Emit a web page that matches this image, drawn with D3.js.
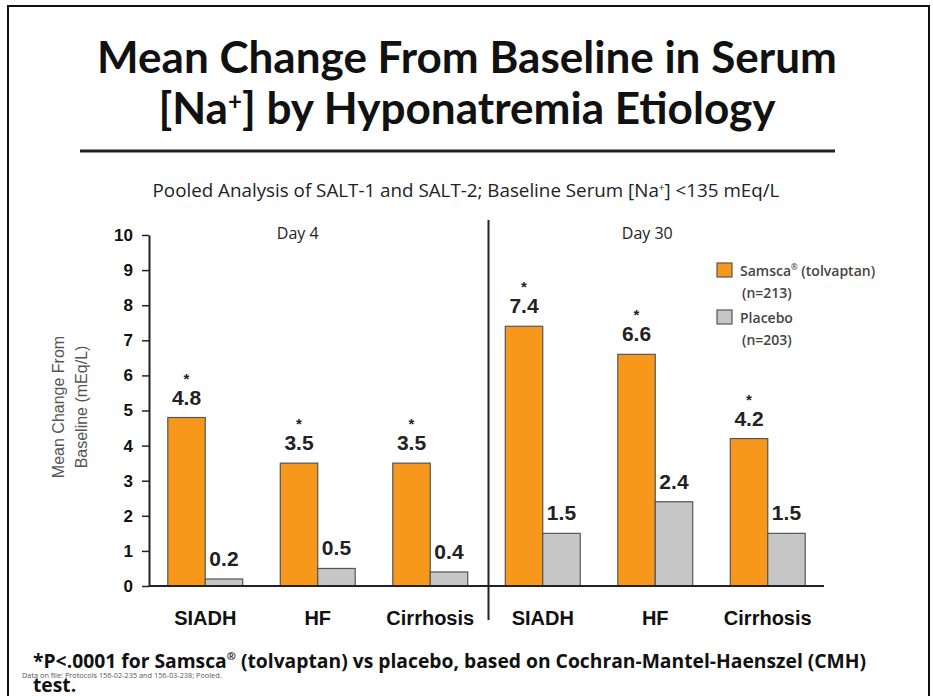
<!DOCTYPE html>
<html>
<head>
<meta charset="utf-8">
<script src="https://cdn.jsdelivr.net/npm/d3@7"></script>
<style>
  body { margin: 0; background: #fff; }
  svg { display: block; }
</style>
</head>
<body>
<svg id="viz" width="933" height="696"></svg>
<script>
// data
const days = ["Day 4", "Day 30"]
const groups = ["d4-SIADH", "d4-HF", "d4-Cirrhosis", "d30-SIADH", "d30-HF", "d30-Cirrhosis"]
const groupLabels = ["SIADH", "HF", "Cirrhosis", "SIADH", "HF", "Cirrhosis"]
const tolvaptan = [4.8, 3.5, 3.5, 7.4, 6.6, 4.2]
const placebo = [0.2, 0.5, 0.4, 1.5, 2.4, 1.5]
const starred = [true, true, true, true, true, true]
const yTicks = [0, 1, 2, 3, 4, 5, 6, 7, 8, 9, 10]
const series = ["Samsca", "Placebo"]
const legendNames = ["Samsca", "Placebo"]
const legendN = ["(n=213)", "(n=203)"]

const COLORS = { Samsca: "#F7981D", Placebo: "#C6C6C6" }
const SANS = "'Open Sans', 'Noto Sans', sans-serif"
const NARROW = "'Liberation Sans Narrow', 'Open Sans', sans-serif"
const ARIAL = "'Liberation Sans', Arial, sans-serif"

const svg = d3.select("svg#viz")

// shrink/grow a text node so it spans a given width
function fit(sel, w) {
    const len = sel.node().getComputedTextLength()
    const fs = parseFloat(sel.attr("font-size"))
    sel.attr("font-size", (fs * w / len).toFixed(2))
    return sel
}

// slide frame
svg.append("rect")
    .attr("x", 8).attr("y", 6).attr("width", 921).attr("height", 700)
    .attr("fill", "none").attr("stroke", "#111").attr("stroke-width", 2)

// title
const titleFont = "'Comic Sans MS', 'Lato', 'DejaVu Sans', sans-serif"
fit(svg.append("text").attr("x", 467).attr("y", 73).attr("text-anchor", "middle")
    .attr("font-family", titleFont).attr("font-weight", "bold").attr("font-size", 42)
    .attr("fill", "#111").text("Mean Change From Baseline in Serum"), 740)
const t2 = svg.append("text").attr("x", 467).attr("y", 124).attr("text-anchor", "middle")
    .attr("font-family", titleFont).attr("font-weight", "bold").attr("font-size", 42)
    .attr("fill", "#111")
t2.append("tspan").text("[Na")
t2.append("tspan").attr("font-size", 24).attr("dy", -14).text("+")
t2.append("tspan").attr("dy", 14).text("] by Hyponatremia Etiology")
fit(t2, 618)

svg.append("line").attr("x1", 80).attr("x2", 835).attr("y1", 151).attr("y2", 151)
    .attr("stroke", "#222").attr("stroke-width", 3)

const sub = svg.append("text").attr("x", 466).attr("y", 197).attr("text-anchor", "middle")
    .attr("font-family", SANS).attr("font-size", 17).attr("fill", "#222")
sub.append("tspan").text("Pooled Analysis of SALT-1 and SALT-2; Baseline Serum [Na")
sub.append("tspan").attr("font-size", 10).attr("dy", -6).text("+")
sub.append("tspan").attr("dy", 6).text("] <135 mEq/L")
fit(sub, 628)

// scales
const x0 = d3.scaleBand().domain(groups).range([149, 824]).paddingInner(0.334).paddingOuter(0.167)
const x1 = d3.scaleBand().domain(series).range([0, x0.bandwidth()])
const y = d3.scaleLinear().domain([0, 10]).range([586, 235])

const rows = groups.map((g, i) => ({
    key: g, label: groupLabels[i], star: starred[i],
    vals: [{ s: "Samsca", v: tolvaptan[i] }, { s: "Placebo", v: placebo[i] }]
}))

// y axis
const yAxis = svg.append("g").attr("transform", "translate(149,0)")
    .call(d3.axisLeft(y).tickValues(yTicks).tickSize(7).tickSizeOuter(0).tickPadding(9))
yAxis.select(".domain").attr("stroke", "#222").attr("stroke-width", 2)
yAxis.selectAll(".tick line").attr("stroke", "#222").attr("stroke-width", 1.5)
yAxis.selectAll(".tick text").attr("font-family", ARIAL).attr("font-weight", "bold")
    .attr("font-size", 17).attr("fill", "#111")

const yt = svg.append("text").attr("transform", "translate(0,407) rotate(-90)")
    .attr("text-anchor", "middle").attr("font-family", ARIAL).attr("font-size", 16).attr("fill", "#555")
yt.append("tspan").attr("x", 0).attr("y", 64).text("Mean Change From")
yt.append("tspan").attr("x", 0).attr("y", 87).text("Baseline (mEq/L)")

// bars
const grp = svg.append("g").selectAll("g")
    .data(rows)
    .join("g")
    .attr("transform", d => `translate(${x0(d.key)},0)`)

grp.selectAll("rect")
    .data(d => d.vals)
    .join("rect")
    .attr("x", d => x1(d.s))
    .attr("y", d => y(d.v))
    .attr("width", x1.bandwidth())
    .attr("height", d => y(0) - y(d.v))
    .attr("fill", d => COLORS[d.s])
    .attr("stroke", "#555")
    .attr("stroke-width", 1.2)

grp.selectAll("text.val")
    .data(d => d.vals)
    .join("text")
    .attr("class", "val")
    .attr("x", d => x1(d.s) + x1.bandwidth() / 2)
    .attr("y", d => y(d.v) - 13)
    .attr("text-anchor", "middle")
    .attr("font-family", ARIAL).attr("font-weight", "bold").attr("font-size", 21)
    .attr("fill", "#222")
    .text(d => d.v.toFixed(1))

grp.filter(d => d.star).append("text")
    .attr("x", x1("Samsca") + x1.bandwidth() / 2)
    .attr("y", d => y(d.vals[0].v) - 34)
    .attr("text-anchor", "middle")
    .attr("font-family", ARIAL).attr("font-weight", "bold").attr("font-size", 15)
    .attr("fill", "#222")
    .text("*")

// baseline
svg.append("line").attr("x1", 149).attr("x2", 824).attr("y1", y(0)).attr("y2", y(0))
    .attr("stroke", "#222").attr("stroke-width", 2)

// category labels
svg.append("g").selectAll("text")
    .data(rows)
    .join("text")
    .attr("x", d => x0(d.key) + x0.bandwidth() / 2)
    .attr("y", 625)
    .attr("text-anchor", "middle")
    .attr("font-family", ARIAL).attr("font-weight", "bold").attr("font-size", 20)
    .attr("fill", "#111")
    .text(d => d.label)

// divider between day 4 and day 30
const divX = x0(groups[3]) - x0.step() * x0.paddingInner() / 2 + 2
svg.append("line").attr("x1", divX).attr("x2", divX).attr("y1", 220).attr("y2", 620)
    .attr("stroke", "#222").attr("stroke-width", 2)

// day headings
const dayCenters = [x0(groups[1]) + x0.bandwidth() / 2 - 20, x0(groups[4]) + x0.bandwidth() / 2 - 8]
svg.append("g").selectAll("text")
    .data(days)
    .join("text")
    .attr("x", (d, i) => dayCenters[i])
    .attr("y", 239)
    .attr("text-anchor", "middle")
    .attr("font-family", SANS).attr("font-size", 16).attr("fill", "#222")
    .text(d => d)

// legend
const leg = svg.append("g").attr("transform", "translate(717,263)")
series.forEach((s, i) => {
    const g = leg.append("g").attr("transform", `translate(0,${i * 47})`)
    g.append("rect").attr("width", 15).attr("height", 14)
        .attr("fill", COLORS[s]).attr("stroke", "#555").attr("stroke-width", 1.2)
    const tx = g.append("text").attr("x", 23).attr("y", 13)
        .attr("font-family", SANS).attr("font-size", 14).attr("font-weight", 600).attr("fill", "#444")
    tx.append("tspan").text(legendNames[i])
    if (i == 0) {
        tx.append("tspan").attr("font-size", 8).attr("dy", -6).text("\u00AE")
        tx.append("tspan").attr("dy", 6).text(" (tolvaptan)")
    }
    g.append("text").attr("x", 25).attr("y", 35)
        .attr("font-family", SANS).attr("font-size", 14).attr("font-weight", 600).attr("fill", "#444")
        .text(legendN[i])
})

// footnotes
const fn = svg.append("text").attr("x", 33).attr("y", 668)
    .attr("font-family", NARROW).attr("font-weight", "bold").attr("font-size", 20).attr("fill", "#111")
fn.append("tspan").text("*P<.0001 for Samsca")
fn.append("tspan").attr("font-size", 11).attr("dy", -8).text("\u00AE")
fn.append("tspan").attr("dy", 8).text(" (tolvaptan) vs placebo, based on Cochran-Mantel-Haenszel (CMH)")
fit(fn, 833)
svg.append("text").attr("x", 33).attr("y", 692)
    .attr("font-family", NARROW).attr("font-weight", "bold").attr("font-size", fn.attr("font-size"))
    .attr("fill", "#111").text("test.")
fit(svg.append("text").attr("x", 22).attr("y", 678)
    .attr("font-family", SANS).attr("font-size", 8).attr("fill", "#555")
    .text("Data on file: Protocols 156-02-235 and 156-03-238; Pooled."), 200)
</script>
</body>
</html>
